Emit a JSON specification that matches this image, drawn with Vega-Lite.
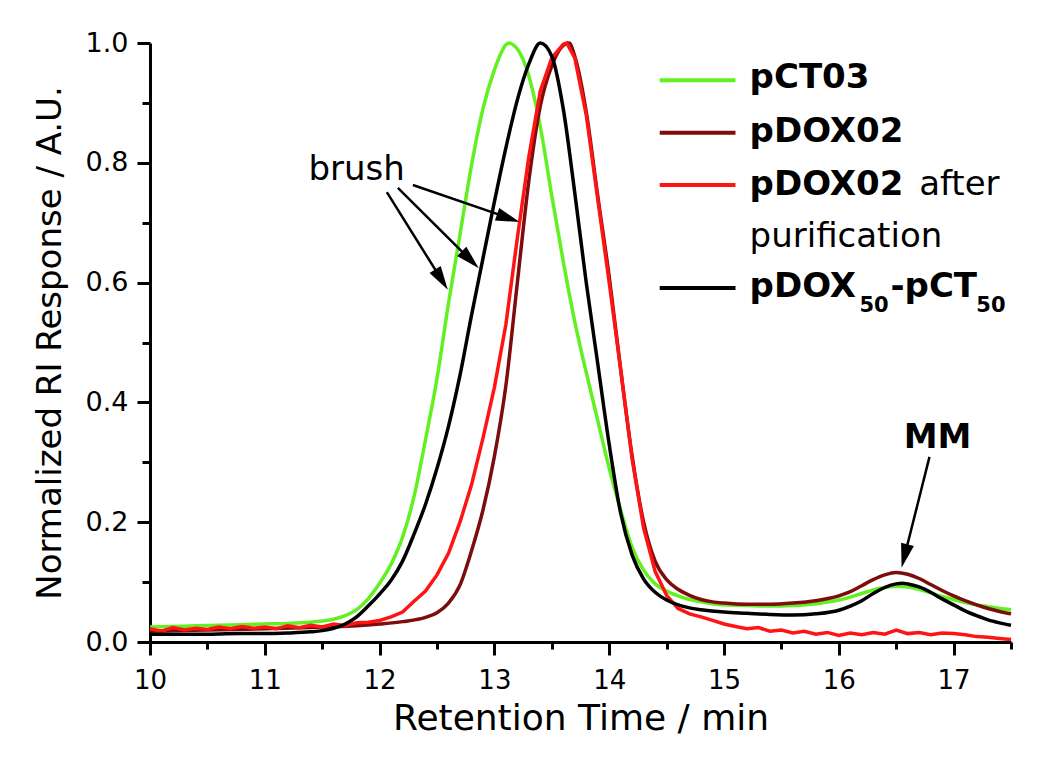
{
"$schema": "https://vega.github.io/schema/vega-lite/v6.json",
"width": 861, "height": 599,
"autosize": "none",
"padding": {"left": 150, "top": 43, "right": 39, "bottom": 116},
"background": "white",
"config": {"view": {"stroke": null}, "font": "DejaVu Sans"},
"datasets": {
"curves": [
{"s":"pCT03","t":10.0,"r":0.025},{"s":"pCT03","t":10.2,"r":0.026},{"s":"pCT03","t":10.4,"r":0.027},{"s":"pCT03","t":10.6,"r":0.028},{"s":"pCT03","t":10.8,"r":0.029},{"s":"pCT03","t":11.0,"r":0.030},{"s":"pCT03","t":11.2,"r":0.031},{"s":"pCT03","t":11.4,"r":0.033},{"s":"pCT03","t":11.5,"r":0.035},{"s":"pCT03","t":11.6,"r":0.038},{"s":"pCT03","t":11.7,"r":0.044},{"s":"pCT03","t":11.8,"r":0.054},{"s":"pCT03","t":11.9,"r":0.072},{"s":"pCT03","t":12.0,"r":0.098},{"s":"pCT03","t":12.1,"r":0.13},{"s":"pCT03","t":12.2,"r":0.175},{"s":"pCT03","t":12.3,"r":0.243},{"s":"pCT03","t":12.4,"r":0.338},{"s":"pCT03","t":12.5,"r":0.44},{"s":"pCT03","t":12.6,"r":0.565},{"s":"pCT03","t":12.7,"r":0.68},{"s":"pCT03","t":12.8,"r":0.795},{"s":"pCT03","t":12.9,"r":0.89},{"s":"pCT03","t":13.0,"r":0.955},{"s":"pCT03","t":13.1,"r":0.997},{"s":"pCT03","t":13.12,"r":1.0},{"s":"pCT03","t":13.2,"r":0.99},{"s":"pCT03","t":13.3,"r":0.945},{"s":"pCT03","t":13.4,"r":0.86},{"s":"pCT03","t":13.5,"r":0.745},{"s":"pCT03","t":13.6,"r":0.635},{"s":"pCT03","t":13.7,"r":0.535},{"s":"pCT03","t":13.8,"r":0.45},{"s":"pCT03","t":13.9,"r":0.37},{"s":"pCT03","t":14.0,"r":0.29},{"s":"pCT03","t":14.1,"r":0.22},{"s":"pCT03","t":14.2,"r":0.158},{"s":"pCT03","t":14.3,"r":0.12},{"s":"pCT03","t":14.4,"r":0.097},{"s":"pCT03","t":14.5,"r":0.085},{"s":"pCT03","t":14.6,"r":0.077},{"s":"pCT03","t":14.7,"r":0.071},{"s":"pCT03","t":14.8,"r":0.067},{"s":"pCT03","t":14.9,"r":0.064},{"s":"pCT03","t":15.0,"r":0.062},{"s":"pCT03","t":15.2,"r":0.061},{"s":"pCT03","t":15.4,"r":0.060},{"s":"pCT03","t":15.6,"r":0.061},{"s":"pCT03","t":15.8,"r":0.064},{"s":"pCT03","t":16.0,"r":0.070},{"s":"pCT03","t":16.1,"r":0.075},{"s":"pCT03","t":16.2,"r":0.081},{"s":"pCT03","t":16.3,"r":0.087},{"s":"pCT03","t":16.4,"r":0.091},{"s":"pCT03","t":16.5,"r":0.093},{"s":"pCT03","t":16.6,"r":0.092},{"s":"pCT03","t":16.7,"r":0.088},{"s":"pCT03","t":16.8,"r":0.082},{"s":"pCT03","t":16.9,"r":0.076},{"s":"pCT03","t":17.0,"r":0.071},{"s":"pCT03","t":17.1,"r":0.066},{"s":"pCT03","t":17.2,"r":0.062},{"s":"pCT03","t":17.3,"r":0.059},{"s":"pCT03","t":17.4,"r":0.056},{"s":"pCT03","t":17.5,"r":0.054},

{"s":"pDOX02","t":10.0,"r":0.018},{"s":"pDOX02","t":10.5,"r":0.020},{"s":"pDOX02","t":11.0,"r":0.022},{"s":"pDOX02","t":11.5,"r":0.025},{"s":"pDOX02","t":11.8,"r":0.027},{"s":"pDOX02","t":12.0,"r":0.030},{"s":"pDOX02","t":12.2,"r":0.034},{"s":"pDOX02","t":12.4,"r":0.041},{"s":"pDOX02","t":12.5,"r":0.049},{"s":"pDOX02","t":12.6,"r":0.065},{"s":"pDOX02","t":12.7,"r":0.095},{"s":"pDOX02","t":12.8,"r":0.152},{"s":"pDOX02","t":12.9,"r":0.22},{"s":"pDOX02","t":13.0,"r":0.31},{"s":"pDOX02","t":13.1,"r":0.428},{"s":"pDOX02","t":13.2,"r":0.6},{"s":"pDOX02","t":13.3,"r":0.77},{"s":"pDOX02","t":13.4,"r":0.895},{"s":"pDOX02","t":13.5,"r":0.962},{"s":"pDOX02","t":13.6,"r":0.996},{"s":"pDOX02","t":13.65,"r":1.0},{"s":"pDOX02","t":13.7,"r":0.978},{"s":"pDOX02","t":13.8,"r":0.885},{"s":"pDOX02","t":13.9,"r":0.745},{"s":"pDOX02","t":14.0,"r":0.61},{"s":"pDOX02","t":14.1,"r":0.455},{"s":"pDOX02","t":14.2,"r":0.31},{"s":"pDOX02","t":14.3,"r":0.2},{"s":"pDOX02","t":14.4,"r":0.135},{"s":"pDOX02","t":14.5,"r":0.104},{"s":"pDOX02","t":14.6,"r":0.088},{"s":"pDOX02","t":14.7,"r":0.078},{"s":"pDOX02","t":14.8,"r":0.071},{"s":"pDOX02","t":14.9,"r":0.067},{"s":"pDOX02","t":15.0,"r":0.065},{"s":"pDOX02","t":15.2,"r":0.063},{"s":"pDOX02","t":15.4,"r":0.063},{"s":"pDOX02","t":15.6,"r":0.065},{"s":"pDOX02","t":15.8,"r":0.069},{"s":"pDOX02","t":16.0,"r":0.077},{"s":"pDOX02","t":16.1,"r":0.084},{"s":"pDOX02","t":16.2,"r":0.094},{"s":"pDOX02","t":16.3,"r":0.104},{"s":"pDOX02","t":16.4,"r":0.112},{"s":"pDOX02","t":16.5,"r":0.116},{"s":"pDOX02","t":16.6,"r":0.113},{"s":"pDOX02","t":16.7,"r":0.106},{"s":"pDOX02","t":16.8,"r":0.096},{"s":"pDOX02","t":16.9,"r":0.086},{"s":"pDOX02","t":17.0,"r":0.077},{"s":"pDOX02","t":17.1,"r":0.069},{"s":"pDOX02","t":17.2,"r":0.062},{"s":"pDOX02","t":17.3,"r":0.056},{"s":"pDOX02","t":17.4,"r":0.051},{"s":"pDOX02","t":17.5,"r":0.047},

{"s":"pDOX02 after purification","t":10.0,"r":0.022},{"s":"pDOX02 after purification","t":10.1,"r":0.018},{"s":"pDOX02 after purification","t":10.2,"r":0.024},{"s":"pDOX02 after purification","t":10.3,"r":0.020},{"s":"pDOX02 after purification","t":10.4,"r":0.023},{"s":"pDOX02 after purification","t":10.5,"r":0.021},{"s":"pDOX02 after purification","t":10.6,"r":0.025},{"s":"pDOX02 after purification","t":10.7,"r":0.022},{"s":"pDOX02 after purification","t":10.8,"r":0.026},{"s":"pDOX02 after purification","t":10.9,"r":0.023},{"s":"pDOX02 after purification","t":11.0,"r":0.025},{"s":"pDOX02 after purification","t":11.1,"r":0.022},{"s":"pDOX02 after purification","t":11.2,"r":0.027},{"s":"pDOX02 after purification","t":11.3,"r":0.024},{"s":"pDOX02 after purification","t":11.4,"r":0.028},{"s":"pDOX02 after purification","t":11.5,"r":0.025},{"s":"pDOX02 after purification","t":11.6,"r":0.030},{"s":"pDOX02 after purification","t":11.7,"r":0.027},{"s":"pDOX02 after purification","t":11.8,"r":0.032},{"s":"pDOX02 after purification","t":11.9,"r":0.033},{"s":"pDOX02 after purification","t":12.0,"r":0.036},{"s":"pDOX02 after purification","t":12.1,"r":0.042},{"s":"pDOX02 after purification","t":12.2,"r":0.050},{"s":"pDOX02 after purification","t":12.3,"r":0.068},{"s":"pDOX02 after purification","t":12.4,"r":0.085},{"s":"pDOX02 after purification","t":12.5,"r":0.112},{"s":"pDOX02 after purification","t":12.6,"r":0.148},{"s":"pDOX02 after purification","t":12.7,"r":0.200},{"s":"pDOX02 after purification","t":12.8,"r":0.262},{"s":"pDOX02 after purification","t":12.9,"r":0.340},{"s":"pDOX02 after purification","t":13.0,"r":0.425},{"s":"pDOX02 after purification","t":13.1,"r":0.530},{"s":"pDOX02 after purification","t":13.2,"r":0.675},{"s":"pDOX02 after purification","t":13.3,"r":0.810},{"s":"pDOX02 after purification","t":13.4,"r":0.920},{"s":"pDOX02 after purification","t":13.5,"r":0.975},{"s":"pDOX02 after purification","t":13.6,"r":0.998},{"s":"pDOX02 after purification","t":13.63,"r":1.0},{"s":"pDOX02 after purification","t":13.7,"r":0.975},{"s":"pDOX02 after purification","t":13.8,"r":0.880},{"s":"pDOX02 after purification","t":13.9,"r":0.740},{"s":"pDOX02 after purification","t":14.0,"r":0.600},{"s":"pDOX02 after purification","t":14.1,"r":0.455},{"s":"pDOX02 after purification","t":14.2,"r":0.305},{"s":"pDOX02 after purification","t":14.3,"r":0.190},{"s":"pDOX02 after purification","t":14.4,"r":0.118},{"s":"pDOX02 after purification","t":14.5,"r":0.078},{"s":"pDOX02 after purification","t":14.6,"r":0.056},{"s":"pDOX02 after purification","t":14.7,"r":0.047},{"s":"pDOX02 after purification","t":14.8,"r":0.042},{"s":"pDOX02 after purification","t":14.9,"r":0.036},{"s":"pDOX02 after purification","t":15.0,"r":0.030},{"s":"pDOX02 after purification","t":15.1,"r":0.026},{"s":"pDOX02 after purification","t":15.2,"r":0.022},{"s":"pDOX02 after purification","t":15.3,"r":0.024},{"s":"pDOX02 after purification","t":15.4,"r":0.018},{"s":"pDOX02 after purification","t":15.5,"r":0.020},{"s":"pDOX02 after purification","t":15.6,"r":0.015},{"s":"pDOX02 after purification","t":15.7,"r":0.018},{"s":"pDOX02 after purification","t":15.8,"r":0.013},{"s":"pDOX02 after purification","t":15.9,"r":0.016},{"s":"pDOX02 after purification","t":16.0,"r":0.011},{"s":"pDOX02 after purification","t":16.1,"r":0.015},{"s":"pDOX02 after purification","t":16.2,"r":0.012},{"s":"pDOX02 after purification","t":16.3,"r":0.016},{"s":"pDOX02 after purification","t":16.4,"r":0.013},{"s":"pDOX02 after purification","t":16.5,"r":0.020},{"s":"pDOX02 after purification","t":16.6,"r":0.014},{"s":"pDOX02 after purification","t":16.7,"r":0.016},{"s":"pDOX02 after purification","t":16.8,"r":0.012},{"s":"pDOX02 after purification","t":16.9,"r":0.015},{"s":"pDOX02 after purification","t":17.0,"r":0.014},{"s":"pDOX02 after purification","t":17.1,"r":0.012},{"s":"pDOX02 after purification","t":17.2,"r":0.009},{"s":"pDOX02 after purification","t":17.3,"r":0.008},{"s":"pDOX02 after purification","t":17.4,"r":0.006},{"s":"pDOX02 after purification","t":17.5,"r":0.004},

{"s":"pDOX50-pCT50","t":10.0,"r":0.013},{"s":"pDOX50-pCT50","t":10.4,"r":0.013},{"s":"pDOX50-pCT50","t":10.8,"r":0.014},{"s":"pDOX50-pCT50","t":11.0,"r":0.014},{"s":"pDOX50-pCT50","t":11.2,"r":0.015},{"s":"pDOX50-pCT50","t":11.4,"r":0.017},{"s":"pDOX50-pCT50","t":11.5,"r":0.019},{"s":"pDOX50-pCT50","t":11.6,"r":0.023},{"s":"pDOX50-pCT50","t":11.7,"r":0.030},{"s":"pDOX50-pCT50","t":11.8,"r":0.042},{"s":"pDOX50-pCT50","t":11.9,"r":0.060},{"s":"pDOX50-pCT50","t":12.0,"r":0.080},{"s":"pDOX50-pCT50","t":12.1,"r":0.103},{"s":"pDOX50-pCT50","t":12.2,"r":0.135},{"s":"pDOX50-pCT50","t":12.3,"r":0.180},{"s":"pDOX50-pCT50","t":12.4,"r":0.23},{"s":"pDOX50-pCT50","t":12.5,"r":0.29},{"s":"pDOX50-pCT50","t":12.6,"r":0.36},{"s":"pDOX50-pCT50","t":12.7,"r":0.445},{"s":"pDOX50-pCT50","t":12.8,"r":0.545},{"s":"pDOX50-pCT50","t":12.9,"r":0.64},{"s":"pDOX50-pCT50","t":13.0,"r":0.735},{"s":"pDOX50-pCT50","t":13.1,"r":0.825},{"s":"pDOX50-pCT50","t":13.2,"r":0.905},{"s":"pDOX50-pCT50","t":13.3,"r":0.965},{"s":"pDOX50-pCT50","t":13.4,"r":1.0},{"s":"pDOX50-pCT50","t":13.5,"r":0.978},{"s":"pDOX50-pCT50","t":13.6,"r":0.89},{"s":"pDOX50-pCT50","t":13.7,"r":0.75},{"s":"pDOX50-pCT50","t":13.8,"r":0.60},{"s":"pDOX50-pCT50","t":13.9,"r":0.465},{"s":"pDOX50-pCT50","t":14.0,"r":0.33},{"s":"pDOX50-pCT50","t":14.1,"r":0.215},{"s":"pDOX50-pCT50","t":14.2,"r":0.145},{"s":"pDOX50-pCT50","t":14.3,"r":0.105},{"s":"pDOX50-pCT50","t":14.4,"r":0.083},{"s":"pDOX50-pCT50","t":14.5,"r":0.07},{"s":"pDOX50-pCT50","t":14.6,"r":0.062},{"s":"pDOX50-pCT50","t":14.7,"r":0.057},{"s":"pDOX50-pCT50","t":14.8,"r":0.054},{"s":"pDOX50-pCT50","t":15.0,"r":0.05},{"s":"pDOX50-pCT50","t":15.2,"r":0.048},{"s":"pDOX50-pCT50","t":15.4,"r":0.046},{"s":"pDOX50-pCT50","t":15.6,"r":0.045},{"s":"pDOX50-pCT50","t":15.8,"r":0.047},{"s":"pDOX50-pCT50","t":16.0,"r":0.053},{"s":"pDOX50-pCT50","t":16.1,"r":0.06},{"s":"pDOX50-pCT50","t":16.2,"r":0.069},{"s":"pDOX50-pCT50","t":16.3,"r":0.081},{"s":"pDOX50-pCT50","t":16.4,"r":0.091},{"s":"pDOX50-pCT50","t":16.5,"r":0.097},{"s":"pDOX50-pCT50","t":16.55,"r":0.098},{"s":"pDOX50-pCT50","t":16.6,"r":0.097},{"s":"pDOX50-pCT50","t":16.7,"r":0.092},{"s":"pDOX50-pCT50","t":16.8,"r":0.083},{"s":"pDOX50-pCT50","t":16.9,"r":0.072},{"s":"pDOX50-pCT50","t":17.0,"r":0.062},{"s":"pDOX50-pCT50","t":17.1,"r":0.052},{"s":"pDOX50-pCT50","t":17.2,"r":0.044},{"s":"pDOX50-pCT50","t":17.3,"r":0.037},{"s":"pDOX50-pCT50","t":17.4,"r":0.032},{"s":"pDOX50-pCT50","t":17.5,"r":0.028}
],
"arrows": [
{"x":12.063,"y":0.751,"x2":12.539,"y2":0.605},
{"x":12.159,"y":0.758,"x2":12.790,"y2":0.638},
{"x":12.290,"y":0.763,"x2":13.123,"y2":0.708},
{"x":16.790,"y":0.309,"x2":16.572,"y2":0.143}
],
"one": [{"k": 1}]
},
"layer": [
{"data": {"name": "curves"}, "transform": [{"filter": "datum.s === 'pCT03'"}], "mark": {"type": "line", "color": "#62f021", "strokeWidth": 3.5, "interpolate": "monotone"},
 "encoding": {
"x": {"field": "t", "type": "quantitative",
 "scale": {"domain": [10, 17.5], "nice": false, "zero": false},
 "axis": {"title": "Retention Time / min", "values": [10,10.5,11,11.5,12,12.5,13,13.5,14,14.5,15,15.5,16,16.5,17,17.5],
  "labelExpr": "datum.value % 1 === 0 ? format(datum.value, 'd') : ''",
  "grid": false, "domainColor": "black", "domainWidth": 3, "tickColor": "black", "tickWidth": 3,
  "tickSize": {"condition": {"test": "datum.value % 1 !== 0", "value": 7}, "value": 13},
  "labelFontSize": 26, "labelColor": "black", "labelPadding": 12, "labelFlush": false, "labelOverlap": false,
  "titleFontSize": 36, "titleFontWeight": "normal", "titleColor": "black", "titlePadding": 8}},
"y": {"field": "r", "type": "quantitative",
 "scale": {"domain": [0, 1], "nice": false},
 "axis": {"title": "Normalized RI Response / A.U.", "values": [0,0.1,0.2,0.3,0.4,0.5,0.6,0.7,0.8,0.9,1.0],
  "labelExpr": "round(datum.value*10) % 2 === 0 ? format(datum.value, '.1f') : ''",
  "grid": false, "domainColor": "black", "domainWidth": 3, "tickColor": "black", "tickWidth": 3,
  "tickSize": {"condition": {"test": "round(datum.value*10) % 2 === 1", "value": 8}, "value": 13},
  "labelFontSize": 27, "labelColor": "black", "labelPadding": 9, "labelFlush": false, "labelOverlap": false,
  "titleFontSize": 34, "titleFontWeight": "normal", "titleColor": "black", "titlePadding": 18}}
}},
{"data": {"name": "curves"}, "transform": [{"filter": "datum.s === 'pDOX02'"}], "mark": {"type": "line", "color": "#7d0c0c", "strokeWidth": 3.5, "interpolate": "monotone"},
 "encoding": {"x": {"field": "t", "type": "quantitative"}, "y": {"field": "r", "type": "quantitative"}}},
{"data": {"name": "curves"}, "transform": [{"filter": "datum.s === 'pDOX02 after purification'"}], "mark": {"type": "line", "color": "#ff1414", "strokeWidth": 3.5},
 "encoding": {"x": {"field": "t", "type": "quantitative"}, "y": {"field": "r", "type": "quantitative"}}},
{"data": {"name": "curves"}, "transform": [{"filter": "datum.s === 'pDOX50-pCT50'"}], "mark": {"type": "line", "color": "#000000", "strokeWidth": 3.5, "interpolate": "monotone"},
 "encoding": {"x": {"field": "t", "type": "quantitative"}, "y": {"field": "r", "type": "quantitative"}}},
{"data": {"name": "arrows"}, "mark": {"type": "rule", "color": "black", "strokeWidth": 2.5},
 "encoding": {"x": {"field": "x", "type": "quantitative"}, "y": {"field": "y", "type": "quantitative"}, "x2": {"field": "x2"}, "y2": {"field": "y2"}}},
{"data": {"name": "one"}, "mark": {"type": "point", "shape": "M0,0L-0.55,2L0.55,2Z", "size": 576, "filled": true, "color": "black", "opacity": 1, "angle": 148.1},
 "encoding": {"x": {"datum": 12.594, "type": "quantitative"}, "y": {"datum": 0.588, "type": "quantitative"}}},
{"data": {"name": "one"}, "mark": {"type": "point", "shape": "M0,0L-0.55,2L0.55,2Z", "size": 576, "filled": true, "color": "black", "opacity": 1, "angle": 134.6},
 "encoding": {"x": {"datum": 12.864, "type": "quantitative"}, "y": {"datum": 0.624, "type": "quantitative"}}},
{"data": {"name": "one"}, "mark": {"type": "point", "shape": "M0,0L-0.55,2L0.55,2Z", "size": 576, "filled": true, "color": "black", "opacity": 1, "angle": 109.1},
 "encoding": {"x": {"datum": 13.221, "type": "quantitative"}, "y": {"datum": 0.701, "type": "quantitative"}}},
{"data": {"name": "one"}, "mark": {"type": "point", "shape": "M0,0L-0.55,2L0.55,2Z", "size": 576, "filled": true, "color": "black", "opacity": 1, "angle": -165.8},
 "encoding": {"x": {"datum": 16.547, "type": "quantitative"}, "y": {"datum": 0.124, "type": "quantitative"}}},
{"data": {"name": "one"}, "mark": {"type": "text", "text": "brush", "fontSize": 34, "align": "center", "baseline": "alphabetic", "color": "black"},
 "encoding": {"x": {"datum": 11.80, "type": "quantitative"}, "y": {"datum": 0.771, "type": "quantitative"}}},
{"data": {"name": "one"}, "mark": {"type": "text", "text": "MM", "fontSize": 34, "fontWeight": "bold", "align": "center", "baseline": "alphabetic", "color": "black"},
 "encoding": {"x": {"datum": 16.86, "type": "quantitative"}, "y": {"datum": 0.324, "type": "quantitative"}}},
{"data": {"name": "one"}, "mark": {"type": "rule", "color": "#62f021", "strokeWidth": 4},
 "encoding": {"x": {"datum": 14.44, "type": "quantitative"}, "x2": {"datum": 15.10}, "y": {"datum": 0.938, "type": "quantitative"}}},
{"data": {"name": "one"}, "mark": {"type": "rule", "color": "#7d0c0c", "strokeWidth": 4},
 "encoding": {"x": {"datum": 14.44, "type": "quantitative"}, "x2": {"datum": 15.10}, "y": {"datum": 0.850, "type": "quantitative"}}},
{"data": {"name": "one"}, "mark": {"type": "rule", "color": "#ff1414", "strokeWidth": 4},
 "encoding": {"x": {"datum": 14.44, "type": "quantitative"}, "x2": {"datum": 15.10}, "y": {"datum": 0.763, "type": "quantitative"}}},
{"data": {"name": "one"}, "mark": {"type": "rule", "color": "#000000", "strokeWidth": 4},
 "encoding": {"x": {"datum": 14.44, "type": "quantitative"}, "x2": {"datum": 15.10}, "y": {"datum": 0.591, "type": "quantitative"}}},
{"data": {"name": "one"}, "mark": {"type": "text", "text": "pCT03", "fontSize": 34, "fontWeight": "bold", "align": "left", "baseline": "alphabetic", "color": "black"},
 "encoding": {"x": {"datum": 15.223, "type": "quantitative"}, "y": {"datum": 0.925, "type": "quantitative"}}},
{"data": {"name": "one"}, "mark": {"type": "text", "text": "pDOX02", "fontSize": 34, "fontWeight": "bold", "align": "left", "baseline": "alphabetic", "color": "black"},
 "encoding": {"x": {"datum": 15.223, "type": "quantitative"}, "y": {"datum": 0.835, "type": "quantitative"}}},
{"data": {"name": "one"}, "mark": {"type": "text", "text": "pDOX02", "fontSize": 34, "fontWeight": "bold", "align": "left", "baseline": "alphabetic", "color": "black"},
 "encoding": {"x": {"datum": 15.223, "type": "quantitative"}, "y": {"datum": 0.746, "type": "quantitative"}}},
{"data": {"name": "one"}, "mark": {"type": "text", "text": "after", "fontSize": 34, "align": "left", "baseline": "alphabetic", "color": "black"},
 "encoding": {"x": {"datum": 16.70, "type": "quantitative"}, "y": {"datum": 0.746, "type": "quantitative"}}},
{"data": {"name": "one"}, "mark": {"type": "text", "text": "purification", "fontSize": 34, "align": "left", "baseline": "alphabetic", "color": "black"},
 "encoding": {"x": {"datum": 15.223, "type": "quantitative"}, "y": {"datum": 0.659, "type": "quantitative"}}},
{"data": {"name": "one"}, "mark": {"type": "text", "text": "pDOX", "fontSize": 34, "fontWeight": "bold", "align": "left", "baseline": "alphabetic", "color": "black"},
 "encoding": {"x": {"datum": 15.223, "type": "quantitative"}, "y": {"datum": 0.576, "type": "quantitative"}}},
{"data": {"name": "one"}, "mark": {"type": "text", "text": "50", "fontSize": 21, "fontWeight": "bold", "align": "left", "baseline": "alphabetic", "color": "black"},
 "encoding": {"x": {"datum": 16.18, "type": "quantitative"}, "y": {"datum": 0.551, "type": "quantitative"}}},
{"data": {"name": "one"}, "mark": {"type": "text", "text": "-pCT", "fontSize": 34, "fontWeight": "bold", "align": "left", "baseline": "alphabetic", "color": "black"},
 "encoding": {"x": {"datum": 16.45, "type": "quantitative"}, "y": {"datum": 0.576, "type": "quantitative"}}},
{"data": {"name": "one"}, "mark": {"type": "text", "text": "50", "fontSize": 21, "fontWeight": "bold", "align": "left", "baseline": "alphabetic", "color": "black"},
 "encoding": {"x": {"datum": 17.198, "type": "quantitative"}, "y": {"datum": 0.551, "type": "quantitative"}}}
]
}
